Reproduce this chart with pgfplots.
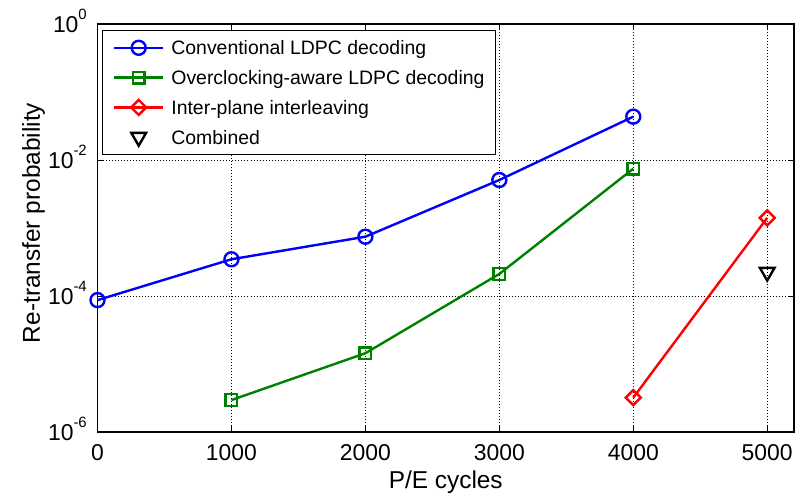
\documentclass[border=0pt]{standalone}
\usepackage{fontspec}
\setmainfont{Liberation Sans}
\usepackage{pgfplots}
\pgfplotsset{compat=1.18}
\usetikzlibrary{calc}
\newcommand\sups[1]{\raisebox{0.55em}{\fontsize{15}{15}\selectfont #1}}
\definecolor{mgreen}{RGB}{0,128,0}
\begin{document}
\begin{tikzpicture}
\begin{axis}[name=ax, scale only axis, width=696.5bp, height=408bp,
  xmin=0, xmax=5200, ymode=log, ymin=1e-6, ymax=1,
  xtick={0,1000,2000,3000,4000,5000},
  ytick={1e-6,1e-4,1e-2,1},
  yticklabels={10\sups{-6},10\sups{-4},10\sups{-2},10\sups{0}},
  yminorticks=false,
  clip=false,
  tick align=inside, major tick length=6bp,
  tick style={black, line width=0.9bp},
  axis line style={line width=1.2bp},
  grid=major,
  major grid style={black, line width=0.7bp, dash pattern=on 1bp off 2bp},
  /pgf/number format/assume math mode=true,
  /pgf/number format/set thousands separator={},
  tick label style={font=\fontsize{23}{23}\selectfont},
  xticklabel style={anchor=north, inner sep=0pt, yshift=-12bp},
  yticklabel style={anchor=base east, inner sep=0pt, xshift=-10.5bp, yshift=-8.2bp},
  xlabel={P/E cycles},
  label style={font=\fontsize{24.5}{24.5}\selectfont},
  xlabel style={at={(rel axis cs:0.5,0)}, anchor=base, yshift=-56bp},
  legend image code/.code={\draw[mark repeat=2,mark phase=2,#1] plot coordinates {(0bp,0bp) (24.5bp,0bp) (49bp,0bp)};},
  legend cell align=left,
  legend style={at={(rel axis cs:0.00646,0.9853)}, anchor=north west,
    draw=black, line width=1bp, fill=white,
    font=\fontsize{19.5}{19.5}\selectfont,
    inner xsep=10.5bp, inner ysep=2.4bp, row sep=0pt, column sep=7bp,
    nodes={inner xsep=0pt, inner ysep=7.9bp, text height=14bp, text depth=0bp}},
]
\addplot[blue, line width=2.4bp, mark=o, mark size=7bp, mark options={solid}]
  coordinates {(0,8.7e-5) (1000,3.47e-4) (2000,7.45e-4) (3000,5.08e-3) (4000,4.34e-2)};
\addlegendentry{Conventional LDPC decoding}
\addplot[mgreen, line width=2.4bp, mark=square, mark size=5.8bp, mark options={solid}]
  coordinates {(1000,2.95e-6) (2000,1.44e-5) (3000,2.11e-4) (4000,7.45e-3)};
\addlegendentry{Overclocking-aware LDPC decoding}
\addplot[red, line width=2.4bp, mark=square, mark size=5.3bp, mark options={solid, rotate=45}]
  coordinates {(4000,3.2e-6) (5000,1.41e-3)};
\addlegendentry{Inter-plane interleaving}
\addplot[black, line width=2.4bp, only marks, mark=triangle, mark size=8.5bp, mark options={solid, rotate=180}]
  coordinates {(5000,2.25e-4)};
\addlegendentry{Combined}
\end{axis}
\node[rotate=90, anchor=base, font=\fontsize{24.5}{24.5}\selectfont, inner sep=0pt]
  at ($(ax.south west)+(-57.5bp,209bp)$) {Re-transfer probability};
\pgfresetboundingbox
\path[use as bounding box] ($(ax.south west)+(-97.5bp,-62bp)$) rectangle ($(ax.south west)+(705.5bp,432bp)$);
\end{tikzpicture}
\end{document}
